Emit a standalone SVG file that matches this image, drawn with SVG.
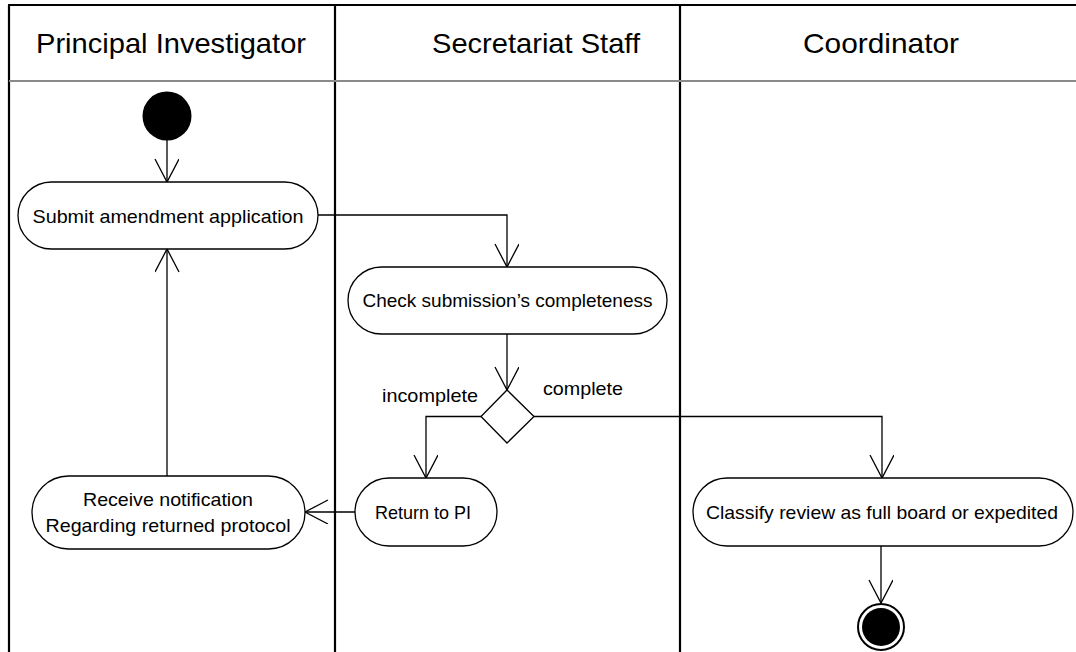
<svg xmlns="http://www.w3.org/2000/svg" width="1076" height="652" viewBox="0 0 1076 652">
  <defs>
    <marker id="arr" markerUnits="userSpaceOnUse" markerWidth="26" markerHeight="26" viewBox="0 0 26 26" refX="24" refY="12" orient="auto">
      <path d="M1,0 L24,12 L1,24" fill="none" stroke="#000" stroke-width="1.3"/>
    </marker>
    <style>
      .lane { stroke: #000; stroke-width: 2.2; fill: none; }
      .hdr { stroke: #8a8a8a; stroke-width: 2; fill: none; }
      .title { font-family: "Liberation Sans", Arial, sans-serif; font-size: 28px; fill: #000; }
      .node { fill: #fff; stroke: #000; stroke-width: 1.3; }
      .lbl { font-family: "Liberation Sans", Arial, sans-serif; font-size: 19px; fill: #000; text-anchor: middle; }
      .edge { fill: none; stroke: #000; stroke-width: 1.3; }
      .small { font-family: "Liberation Sans", Arial, sans-serif; font-size: 19px; fill: #000; }
    </style>
  </defs>
  <rect width="1076" height="652" fill="#fff"/>

  <g id="lanes">
    <line class="lane" x1="8" y1="5" x2="1076" y2="5"/>
    <line class="lane" x1="9" y1="5" x2="9" y2="652"/>
    <line class="lane" x1="335" y1="5" x2="335" y2="652"/>
    <line class="lane" x1="680" y1="5" x2="680" y2="652"/>
    <line class="hdr" x1="9" y1="81" x2="1076" y2="81"/>
    <text class="title" x="36" y="53" textLength="270" lengthAdjust="spacingAndGlyphs">Principal Investigator</text>
    <text class="title" x="432" y="53" textLength="208" lengthAdjust="spacingAndGlyphs">Secretariat Staff</text>
    <text class="title" x="803" y="53" textLength="156" lengthAdjust="spacingAndGlyphs">Coordinator</text>
  </g>

  <g id="connectors">
    <line class="edge" x1="167" y1="140" x2="167" y2="182" marker-end="url(#arr)"/>
    <polyline class="edge" points="318,215 507,215 507,267" marker-end="url(#arr)"/>
    <line class="edge" x1="507" y1="334" x2="507" y2="390" marker-end="url(#arr)"/>
    <polyline class="edge" points="481,416.5 426,416.5 426,478" marker-end="url(#arr)"/>
    <polyline class="edge" points="534,416.5 882,416.5 882,478" marker-end="url(#arr)"/>
    <line class="edge" x1="355" y1="512" x2="305" y2="512" marker-end="url(#arr)"/>
    <line class="edge" x1="167" y1="476" x2="167" y2="249" marker-end="url(#arr)"/>
    <line class="edge" x1="881" y1="546" x2="881" y2="603" marker-end="url(#arr)"/>
    <text class="small" x="382" y="402" textLength="96" lengthAdjust="spacingAndGlyphs">incomplete</text>
    <text class="small" x="543" y="395" textLength="80" lengthAdjust="spacingAndGlyphs">complete</text>
  </g>

  <g id="start">
    <circle cx="167" cy="116" r="24.5" fill="#000"/>
  </g>

  <g id="submit">
    <rect class="node" x="18" y="182" width="300" height="67" rx="33.5" ry="33.5"/>
    <text class="lbl" x="168" y="222.5" textLength="271" lengthAdjust="spacingAndGlyphs">Submit amendment application</text>
  </g>

  <g id="check">
    <rect class="node" x="348" y="267" width="319" height="67" rx="33.5" ry="33.5"/>
    <text class="lbl" x="507.5" y="307" textLength="290" lengthAdjust="spacingAndGlyphs">Check submission’s completeness</text>
  </g>

  <g id="decision">
    <polygon class="node" points="507,390 534,416.5 507,443 481,416.5" stroke-width="1.8"/>
  </g>

  <g id="return">
    <rect class="node" x="355" y="478" width="142" height="68" rx="34" ry="34"/>
    <text class="lbl" x="423" y="518.5" textLength="96" lengthAdjust="spacingAndGlyphs">Return to PI</text>
  </g>

  <g id="receive">
    <rect class="node" x="32" y="476" width="273" height="73" rx="36.5" ry="36.5"/>
    <text class="lbl" x="168" y="506" textLength="170" lengthAdjust="spacingAndGlyphs">Receive notification</text>
    <text class="lbl" x="168" y="532" textLength="245" lengthAdjust="spacingAndGlyphs">Regarding returned protocol</text>
  </g>

  <g id="classify">
    <rect class="node" x="693" y="478" width="380" height="68" rx="34" ry="34"/>
    <text class="lbl" x="882" y="519" textLength="352" lengthAdjust="spacingAndGlyphs">Classify review as full board or expedited</text>
  </g>

  <g id="end">
    <circle cx="881" cy="627" r="23" fill="#fff" stroke="#000" stroke-width="2"/>
    <circle cx="881" cy="627" r="19" fill="#000"/>
  </g>
</svg>
